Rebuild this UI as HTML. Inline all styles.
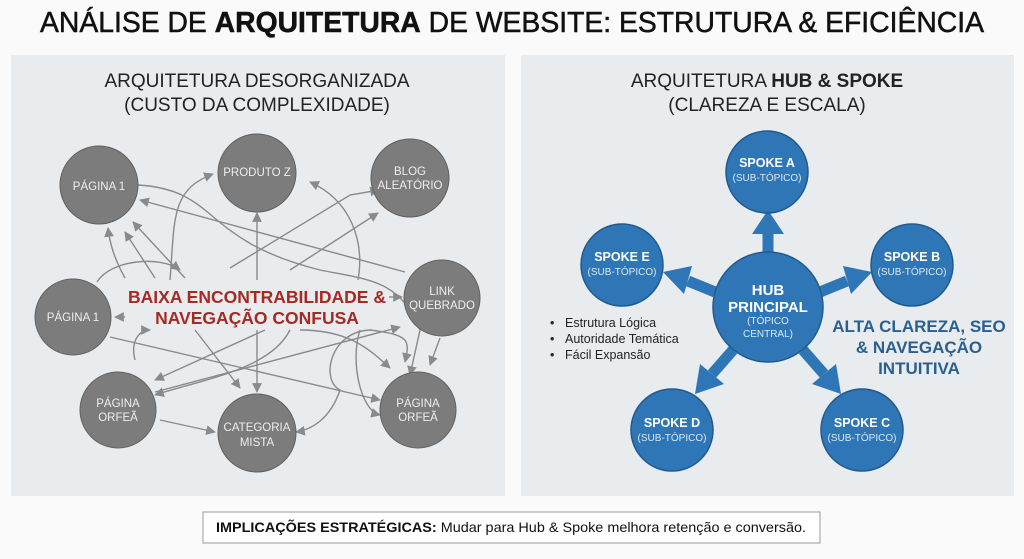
<!DOCTYPE html>
<html><head><meta charset="utf-8"><style>
html,body{margin:0;padding:0;background:#fafafa;}
svg{display:block;font-family:"Liberation Sans",sans-serif;}
</style></head><body>
<svg width="1024" height="559" viewBox="0 0 1024 559" xmlns="http://www.w3.org/2000/svg">
<defs>
<marker id="ar" viewBox="0 0 10 10" refX="9" refY="5" markerWidth="7" markerHeight="7" orient="auto"><path d="M0,0 L10,5 L0,10 z" fill="#8a8a8a"/></marker>
</defs>
<rect width="1024" height="559" fill="#fafafa"/>
<text x="512" y="32" text-anchor="middle" font-size="29" fill="#111" stroke="#111" stroke-width="0.5" textLength="944" lengthAdjust="spacingAndGlyphs">ANÁLISE DE <tspan font-weight="bold">ARQUITETURA</tspan> DE WEBSITE: ESTRUTURA &amp; EFICIÊNCIA</text>

<rect x="11" y="55" width="494" height="441" fill="#e9ecee"/>
<rect x="521" y="55" width="493" height="441" fill="#e9ecee"/>

<text x="257" y="87" text-anchor="middle" font-size="19" fill="#222">ARQUITETURA DESORGANIZADA</text>
<text x="257" y="111" text-anchor="middle" font-size="19" fill="#222">(CUSTO DA COMPLEXIDADE)</text>

<g stroke="#8a8a8a" stroke-width="1.4" fill="none" marker-end="url(#ar)">
<path d="M138,185 C220,190 200,240 320,270 C370,280 400,280 420,330 L410,375"/>
<path d="M170,280 C175,220 170,190 213,174"/>
<path d="M230,268 L350,195 L379,190"/>
<path d="M290,270 L378,213"/>
<path d="M358,280 C365,240 350,200 310,182"/>
<path d="M257,280 L257,213"/>
<path d="M405,272 L140,200"/>
<path d="M125,278 C115,260 110,245 108,228"/>
<path d="M155,278 L125,232"/>
<path d="M185,278 L133,222"/>
<path d="M97,282 C110,260 160,255 180,270"/>
<path d="M125,317 L115,317"/>
<path d="M389,297 L402,297"/>
<path d="M135,360 C130,340 140,330 150,330"/>
<path d="M265,330 L155,380"/>
<path d="M195,330 L240,388"/>
<path d="M257,330 L257,392"/>
<path d="M290,330 C270,370 200,380 155,395"/>
<path d="M155,392 L400,327"/>
<path d="M110,337 L380,400"/>
<path d="M160,420 L215,432"/>
<path d="M300,330 C350,330 370,350 390,368"/>
<path d="M370,330 C410,335 410,340 405,362"/>
<path d="M372,330 C330,330 320,380 340,390 C330,420 310,430 296,432"/>
<path d="M360,330 C350,360 360,410 380,415"/>
<path d="M440,338 L430,365"/>
</g>

<g fill="#7c7c7c" stroke="#606060" stroke-width="1">
<circle cx="99" cy="185" r="39"/>
<circle cx="257" cy="173" r="39"/>
<circle cx="410" cy="178" r="39"/>
<circle cx="73" cy="317" r="38"/>
<circle cx="442" cy="298" r="38"/>
<circle cx="118" cy="410" r="38"/>
<circle cx="257" cy="433" r="39"/>
<circle cx="418" cy="410" r="38"/>
</g>
<g fill="#eee" font-size="11.5" text-anchor="middle">
<text x="99" y="190">PÁGINA 1</text>
<text x="257" y="176">PRODUTO Z</text>
<text x="410" y="175">BLOG</text><text x="410" y="189">ALEATÓRIO</text>
<text x="73" y="321">PÁGINA 1</text>
<text x="442" y="295">LINK</text><text x="442" y="309">QUEBRADO</text>
<text x="118" y="407">PÁGINA</text><text x="118" y="421">ORFEÃ</text>
<text x="257" y="431">CATEGORIA</text><text x="257" y="446">MISTA</text>
<text x="418" y="407">PÁGINA</text><text x="418" y="421">ORFEÃ</text>
</g>
<text x="257" y="303" text-anchor="middle" font-size="17.5" font-weight="bold" fill="#a52a24">BAIXA ENCONTRABILIDADE &amp;</text>
<text x="257" y="324" text-anchor="middle" font-size="17.5" font-weight="bold" fill="#a52a24">NAVEGAÇÃO CONFUSA</text>

<text x="767" y="87" text-anchor="middle" font-size="19" fill="#222">ARQUITETURA <tspan font-weight="bold">HUB &amp; SPOKE</tspan></text>
<text x="767" y="111" text-anchor="middle" font-size="19" fill="#222">(CLAREZA E ESCALA)</text>

<g fill="#2f76b6" stroke="#2f76b6">
<g stroke-width="11" fill="none">
<line x1="768" y1="258" x2="768" y2="232"/>
<line x1="715" y1="292" x2="688" y2="281"/>
<line x1="820" y1="292" x2="847" y2="281"/>
<line x1="733" y1="350" x2="712" y2="374"/>
<line x1="803" y1="350" x2="824" y2="374"/>
</g>
<polygon points="768,210 752,234 784,234" stroke="none"/>
<polygon points="663,272 692,266 684,294" stroke="none"/>
<polygon points="872,272 843,266 851,294" stroke="none"/>
<polygon points="695,394 700,364 724,384" stroke="none"/>
<polygon points="841,394 836,364 812,384" stroke="none"/>
</g>
<g fill="#2f76b6" stroke="#215a8f" stroke-width="1.5">
<circle cx="768" cy="307" r="55"/>
<circle cx="767" cy="172" r="41"/>
<circle cx="622" cy="265" r="41"/>
<circle cx="912" cy="265" r="41"/>
<circle cx="672" cy="430" r="41"/>
<circle cx="862" cy="430" r="41"/>
</g>
<g fill="#fff" text-anchor="middle">
<text x="768" y="295" font-size="15" font-weight="bold">HUB</text>
<text x="768" y="312" font-size="15" font-weight="bold">PRINCIPAL</text>
<text x="768" y="324" font-size="10" fill="#dde8f3">(TÓPICO</text>
<text x="768" y="337" font-size="10" fill="#dde8f3">CENTRAL)</text>
<text x="767" y="167" font-size="12.5" font-weight="bold">SPOKE A</text><text x="767" y="181" font-size="10" fill="#dde8f3">(SUB-TÓPICO)</text>
<text x="622" y="261" font-size="12.5" font-weight="bold">SPOKE E</text><text x="622" y="275" font-size="10" fill="#dde8f3">(SUB-TÓPICO)</text>
<text x="912" y="261" font-size="12.5" font-weight="bold">SPOKE B</text><text x="912" y="275" font-size="10" fill="#dde8f3">(SUB-TÓPICO)</text>
<text x="672" y="427" font-size="12.5" font-weight="bold">SPOKE D</text><text x="672" y="441" font-size="10" fill="#dde8f3">(SUB-TÓPICO)</text>
<text x="862" y="427" font-size="12.5" font-weight="bold">SPOKE C</text><text x="862" y="441" font-size="10" fill="#dde8f3">(SUB-TÓPICO)</text>
</g>
<g font-size="12.5" fill="#222">
<text x="550" y="327">•</text><text x="565" y="327">Estrutura Lógica</text>
<text x="550" y="343">•</text><text x="565" y="343">Autoridade Temática</text>
<text x="550" y="359">•</text><text x="565" y="359">Fácil Expansão</text>
</g>
<g font-size="17" font-weight="bold" fill="#2a5f8f" text-anchor="middle">
<text x="919" y="332">ALTA CLAREZA, SEO</text>
<text x="919" y="353">&amp; NAVEGAÇÃO</text>
<text x="919" y="374">INTUITIVA</text>
</g>

<rect x="203" y="512" width="617" height="31" fill="#fff" stroke="#999" stroke-width="1"/>
<text x="511" y="532" text-anchor="middle" font-size="14" fill="#111" textLength="590" lengthAdjust="spacingAndGlyphs"><tspan font-weight="bold">IMPLICAÇÕES ESTRATÉGICAS:</tspan> Mudar para Hub &amp; Spoke melhora retenção e conversão.</text>
</svg>
</body></html>
